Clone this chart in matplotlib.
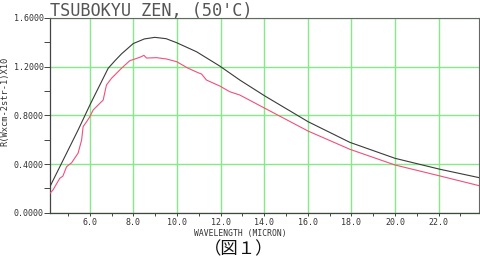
import numpy as np
import matplotlib
matplotlib.use("Agg")
import matplotlib.pyplot as plt
from matplotlib.ticker import MultipleLocator, FormatStrFormatter

# wavelength (micron) / radiance
black_x = [4.17, 4.70, 5.46, 6.00, 6.38, 6.84, 7.15, 7.45, 7.99, 8.50, 8.98, 9.50, 9.98,
           10.89, 11.96, 12.88, 14.03, 16.01, 17.93, 20.00, 22.06, 23.86]
black_y = [0.215, 0.406, 0.680, 0.885, 1.022, 1.187, 1.249, 1.305, 1.390, 1.428, 1.441, 1.430, 1.397,
           1.323, 1.205, 1.090, 0.959, 0.748, 0.578, 0.447, 0.357, 0.288]

red_x = [4.17, 4.30, 4.62, 4.76, 4.93, 5.16, 5.46, 5.62, 5.69, 5.85, 6.00, 6.15,
         6.38, 6.61, 6.76, 6.99, 7.45, 7.83, 8.29, 8.48, 8.60, 9.06, 9.52, 9.98,
         10.51, 10.97, 11.12, 11.35, 11.96, 12.42, 12.88, 14.03, 16.01, 17.93,
         20.00, 22.06, 23.86]
red_y = [0.160, 0.185, 0.283, 0.300, 0.378, 0.410, 0.490, 0.597, 0.707, 0.748, 0.789, 0.844,
         0.885, 0.926, 1.049, 1.104, 1.187, 1.249, 1.277, 1.293, 1.271, 1.274, 1.263, 1.241,
         1.187, 1.150, 1.140, 1.090, 1.041, 0.994, 0.967, 0.858, 0.671, 0.521,
         0.392, 0.302, 0.222]

x_major = [6, 8, 10, 12, 14, 16, 18, 20, 22]
y_major = [0.0, 0.4, 0.8, 1.2, 1.6]

mono = "DejaVu Sans Mono"
txt = "#333333"

fig = plt.figure(figsize=(4.8, 2.6), dpi=100)
ax = fig.add_axes([50 / 480, 1 - 212.7 / 260, 428.7 / 480, 194.7 / 260])

ax.set_xlim(4.17, 23.84)
ax.set_ylim(0, 1.6)

ax.set_xticks(x_major)
ax.set_yticks(y_major)
ax.xaxis.set_minor_locator(MultipleLocator(1))
ax.yaxis.set_minor_locator(MultipleLocator(0.2))
ax.xaxis.set_major_formatter(FormatStrFormatter("%.1f"))
ax.yaxis.set_major_formatter(FormatStrFormatter("%.4f"))

ax.grid(True, which="major", color="#86e886", linewidth=1.0)
ax.set_axisbelow(True)

ax.plot(black_x, black_y, color="#3a3a3a", linewidth=0.8, zorder=3)
ax.plot(red_x, red_y, color="#f0507a", linewidth=0.8, zorder=3)

ax.tick_params(axis="y", which="both", direction="out", length=4, width=0.7,
               color="#444444", pad=0.5, labelsize=6, labelcolor=txt)
ax.tick_params(axis="x", which="both", direction="out", length=2.5, width=0.7,
               color="#444444", pad=1.5, labelsize=6, labelcolor=txt)
for lab in ax.get_xticklabels() + ax.get_yticklabels():
    lab.set_family(mono)

for side in ["left", "bottom"]:
    ax.spines[side].set_color("#444444")
    ax.spines[side].set_linewidth(0.9)
for side in ["top", "right"]:
    ax.spines[side].set_color("#666666")
    ax.spines[side].set_linewidth(0.8)

fig.text(50 / 480, 1 - 16.5 / 260, "TSUBOKYU ZEN, (50'C)", family=mono,
         fontsize=12.2, color="#555555", ha="left", va="baseline")
fig.text(5 / 480, 1 - 101 / 260, "R(Wxcm-2str-1)X10", family=mono,
         fontsize=6.3, color=txt, rotation=90, ha="center", va="center")
fig.text(240 / 480, 1 - 233.5 / 260, "WAVELENGTH (MICRON)", family=mono,
         fontsize=5.8, color=txt, ha="center", va="center")
fig.text(239 / 480, 1 - 249 / 260, "（図１）", family=["Noto Sans CJK JP", "DejaVu Sans"],
         fontsize=12.5, color="#111111", ha="center", va="center")

fig.savefig("out.png", dpi=100)
